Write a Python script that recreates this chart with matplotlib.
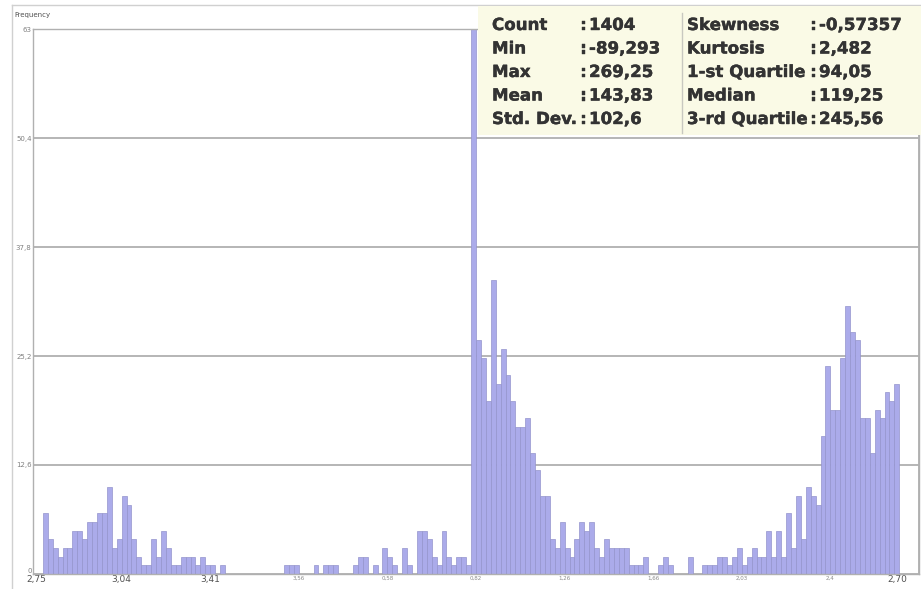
import numpy as np
import matplotlib.pyplot as plt
import matplotlib.patheffects as pe
from matplotlib.patches import Rectangle
from matplotlib.lines import Line2D

# histogram counts, 18 bins per grid division
freq = [
    0, 0, 7, 4, 3, 2, 3, 3, 5, 5, 4, 6, 6, 7, 7, 10, 3, 4,
    9, 8, 4, 2, 1, 1, 4, 2, 5, 3, 1, 1, 2, 2, 2, 1, 2, 1,
    1, 0, 1, 0, 0, 0, 0, 0, 0, 0, 0, 0, 0, 0, 0, 1, 1, 1,
    0, 0, 0, 1, 0, 1, 1, 1, 0, 0, 0, 1, 2, 2, 0, 1, 0, 3,
    2, 1, 0, 3, 1, 0, 5, 5, 4, 2, 1, 5, 2, 1, 2, 2, 1, 63,
    27, 25, 20, 34, 22, 26, 23, 20, 17, 17, 18, 14, 12, 9, 9, 4, 3, 6,
    3, 2, 4, 6, 5, 6, 3, 2, 4, 3, 3, 3, 3, 1, 1, 1, 2, 0,
    0, 1, 2, 1, 0, 0, 0, 2, 0, 0, 1, 1, 1, 2, 2, 1, 2, 3,
    1, 2, 3, 2, 2, 5, 2, 5, 2, 7, 3, 9, 4, 10, 9, 8, 16, 24,
    19, 19, 25, 31, 28, 27, 18, 18, 14, 19, 18, 21, 20, 22,
]

x_tick_pos = [0.6, 18, 36, 54, 72, 90, 108, 126, 144, 162, 175.5]
x_tick_labels = ["2,75", "3,04", "3,41", "3,56", "0,58", "0,82",
                 "1,26", "1,66", "2,03", "2,4", "2,70"]
y_ticks = [0, 12.6, 25.2, 37.8, 50.4, 63]
y_tick_labels = ["0", "12,6", "25,2", "37,8", "50,4", "63"]

stat_names_l = ["Count", "Min", "Max", "Mean", "Std. Dev."]
stat_vals_l = ["1404", "-89,293", "269,25", "143,83", "102,6"]
stat_names_r = ["Skewness", "Kurtosis", "1-st Quartile", "Median", "3-rd Quartile"]
stat_vals_r = ["-0,57357", "2,482", "94,05", "119,25", "245,56"]

W, H = 921, 589
fig = plt.figure(figsize=(W / 100, H / 100), dpi=100)
fig.patch.set_facecolor("white")

ax = fig.add_axes([33 / W, 1 - 574 / H, (919 - 33) / W, (574 - 29) / H])
ax.bar(np.arange(len(freq)), freq, width=1, align="edge",
       color="#ababea", edgecolor="#9494cc", linewidth=0.5)
ax.set_xlim(0, 180)
ax.set_ylim(0, 63)

ax.set_xticks(np.arange(0, 181, 18), minor=True)
ax.set_xticks(x_tick_pos)
ax.set_xticklabels(x_tick_labels)
ax.set_yticks(y_ticks)
ax.set_yticklabels(y_tick_labels)
ax.set_axisbelow(True)
ax.grid(True, which="minor", axis="x", color="#b0b0b0", lw=1.3)
ax.grid(True, which="major", axis="y", color="#b0b0b0", lw=1.3)
ax.tick_params(which="both", length=0, pad=1)
ax.tick_params(axis="y", labelsize=5, labelcolor="#808080")
# zero label sits just above the baseline
ax.get_yticklabels()[0].set_verticalalignment("bottom")

big = {"2,75", "3,04", "3,41", "2,70"}
for lab in ax.get_xticklabels():
    if lab.get_text() in big:
        lab.set_fontsize(6.5)
        lab.set_color("#505050")
    else:
        lab.set_fontsize(4)
        lab.set_color("#8a8a8a")

for s in ax.spines.values():
    s.set_color("#b0b0b0")
    s.set_linewidth(1)

# outer frame
fig.add_artist(Line2D([12 / W, 12 / W], [0, 1 - 5 / H], color="#d0d0d0", lw=1))
fig.add_artist(Line2D([12 / W, 1], [1 - 5 / H, 1 - 5 / H], color="#d0d0d0", lw=1))
fig.text(14 / W, 1 - 15 / H, "Frequency", fontsize=5, color="#505050", va="center")

# statistics panel
fig.add_artist(Rectangle((478 / W, 1 - 135 / H), (W - 478) / W, (135 - 6) / H,
                         transform=fig.transFigure, facecolor="#fafae6",
                         edgecolor="none", zorder=5))
fig.add_artist(Line2D([682 / W, 682 / W], [1 - 13 / H, 1 - 133 / H],
                      color="#c8c8c0", lw=1, zorder=6))

ink = "#333333"
txt = dict(fontsize=12, fontweight="bold", color=ink, va="baseline", zorder=7,
           path_effects=[pe.withStroke(linewidth=0.3, foreground=ink)])
for i in range(5):
    yb = 1 - (30 + 23.5 * i) / H
    fig.text(492 / W, yb, stat_names_l[i], **txt)
    fig.text(580 / W, yb, ":", **txt)
    fig.text(589 / W, yb, stat_vals_l[i], **txt)
    fig.text(687 / W, yb, stat_names_r[i], **txt)
    fig.text(810 / W, yb, ":", **txt)
    fig.text(819 / W, yb, stat_vals_r[i], **txt)

fig.savefig("out.png", dpi=100)
